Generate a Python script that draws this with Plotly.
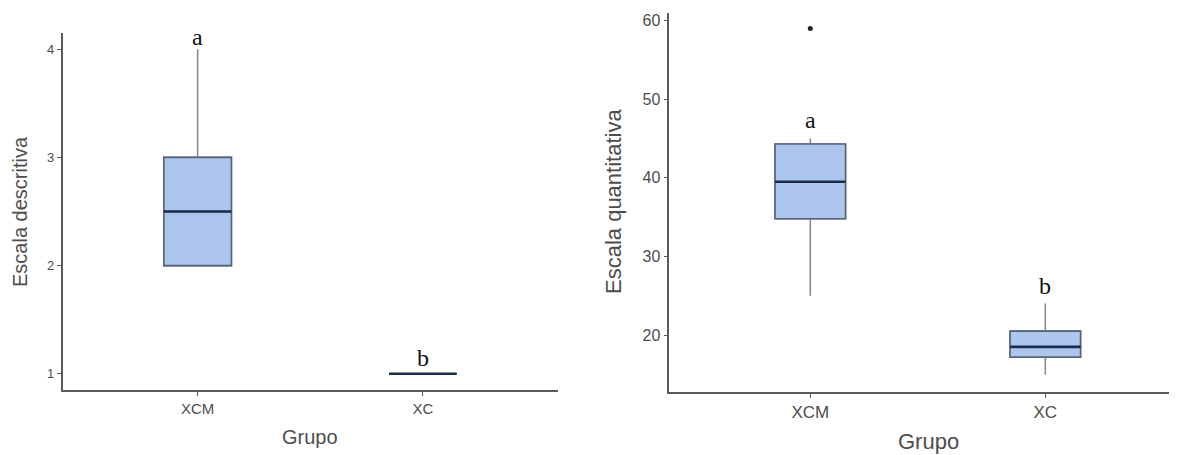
import plotly.graph_objects as go

# ---- data ----
groups = ["XCM", "XC"]

desc_q1 = [2.0, 1.0]
desc_median = [2.5, 1.0]
desc_q3 = [3.0, 1.0]
desc_lower = [2.0, 1.0]
desc_upper = [4.0, 1.0]
desc_letters = ["a", "b"]
desc_letter_y = [4.11, 1.15]

quant_q1 = [34.8, 17.2]
quant_median = [39.5, 18.5]
quant_q3 = [44.3, 20.5]
quant_lower = [25.0, 15.0]
quant_upper = [45.0, 24.0]
quant_outlier_group = ["XCM"]
quant_outlier_y = [59.0]
quant_letters = ["a", "b"]
quant_letter_y = [47.3, 26.3]

desc_ticks = [1, 2, 3, 4]
quant_ticks = [20, 30, 40, 50, 60]

# ---- style ----
OFF = 8                      # default page body margin
W, H = 1177 - OFF, 455 - OFF
FILL = "#adc6ee"
WHISK = "#8a8a8a"
EDGE = "#56637d"
MED = "#1c2c48"
AX = "#5a5a5a"
TXT = "#4d4d4d"
FONT = "Liberation Sans, Arial, sans-serif"


def px(x):
    return (x - OFF) / W


def py(y):
    return 1 - (y - OFF) / H


xpos = list(range(len(groups)))
BW = 0.3

fig = go.Figure()


def add_panel(xa, ya, q1, med, q3, lo, hi):
    common = dict(x=xpos, width=BW, whiskerwidth=0, boxpoints=False, showlegend=False,
                  hoverinfo="skip", xaxis=xa, yaxis=ya)
    # whiskers + box
    fig.add_trace(go.Box(q1=q1, median=med, q3=q3, lowerfence=lo, upperfence=hi,
                         fillcolor=FILL, line=dict(color=WHISK, width=1.6), **common))
    # box outline
    fig.add_trace(go.Box(q1=q1, median=med, q3=q3, lowerfence=q1, upperfence=q3,
                         fillcolor=FILL, line=dict(color=EDGE, width=1.6), **common))
    # median line
    fig.add_trace(go.Box(q1=med, median=med, q3=med, lowerfence=med, upperfence=med,
                         fillcolor="rgba(0,0,0,0)", line=dict(color=MED, width=2.6), **common))


add_panel("x", "y", desc_q1, desc_median, desc_q3, desc_lower, desc_upper)
add_panel("x2", "y2", quant_q1, quant_median, quant_q3, quant_lower, quant_upper)

fig.add_trace(go.Scatter(x=[groups.index(g) for g in quant_outlier_group], y=quant_outlier_y,
                         mode="markers", marker=dict(color="#222222", size=5),
                         showlegend=False, hoverinfo="skip", xaxis="x2", yaxis="y2"))

# letters
LFONT = dict(family="Liberation Serif, Times New Roman, serif", size=24, color="#111111")
for i, (t, yv) in enumerate(zip(desc_letters, desc_letter_y)):
    fig.add_annotation(x=i, y=yv, xref="x", yref="y", text=t, showarrow=False, font=LFONT)
for i, (t, yv) in enumerate(zip(quant_letters, quant_letter_y)):
    fig.add_annotation(x=i, y=yv, xref="x2", yref="y2", text=t, showarrow=False, font=LFONT)

# axis titles as annotations
TA = dict(xref="paper", yref="paper", showarrow=False, xanchor="center", yanchor="middle")
fig.add_annotation(x=px(20), y=py(212), text="Escala descritiva", textangle=-90,
                   font=dict(family=FONT, size=20, color=TXT), **TA)
fig.add_annotation(x=px(310), y=py(437), text="Grupo",
                   font=dict(family=FONT, size=20, color=TXT), **TA)
fig.add_annotation(x=px(613), y=py(202), text="Escala quantitativa", textangle=-90,
                   font=dict(family=FONT, size=22, color=TXT), **TA)
fig.add_annotation(x=px(928), y=py(441), text="Grupo",
                   font=dict(family=FONT, size=22, color=TXT), **TA)

axcommon = dict(showgrid=False, zeroline=False, showline=True, linecolor=AX, linewidth=1.5,
                ticks="outside", ticklen=4, tickcolor=AX, tickwidth=1.3, automargin=False)

fig.update_layout(
    width=W, height=H, margin=dict(l=0, r=0, t=0, b=0, autoexpand=False),
    paper_bgcolor="white", plot_bgcolor="white", boxmode="overlay",
    xaxis=dict(domain=[px(62.5), px(558)], range=[-0.6, 1.6], tickvals=xpos, ticktext=groups,
               tickfont=dict(family=FONT, size=15, color=TXT), anchor="y", **axcommon),
    yaxis=dict(domain=[py(390), py(33)], range=[0.85, 4.15], tickvals=desc_ticks,
               tickfont=dict(family=FONT, size=13, color=TXT), anchor="x", **axcommon),
    xaxis2=dict(domain=[px(669.3), 1.0], range=[-0.6, -0.6 + (1177 - 669.3) / 235.0], tickvals=xpos,
                ticktext=groups, tickfont=dict(family=FONT, size=17, color=TXT), anchor="y2", **axcommon),
    yaxis2=dict(domain=[py(392), py(12.7)], range=[12.76, 61.0], tickvals=quant_ticks,
                tickfont=dict(family=FONT, size=16, color=TXT), anchor="x2", **axcommon),
)

fig.write_html("out.html")
